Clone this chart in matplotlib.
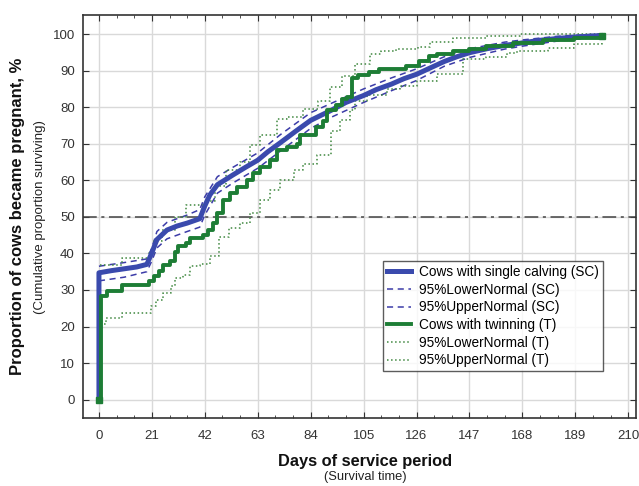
import numpy as np
import matplotlib.pyplot as plt
from matplotlib.ticker import MultipleLocator

plt.rcParams['font.family'] = ['Liberation Sans', 'DejaVu Sans']

# single calving (SC) - cumulative proportion pregnant
sc_days = [0, 0, 5, 10, 15, 19, 21, 23, 27, 31, 35, 40, 42, 44, 47, 53, 58, 63, 67, 72,
           78, 84, 92, 98, 105, 110, 116, 121, 126, 131, 137, 142, 147, 154, 161, 168,
           175, 182, 189, 199]
sc_val = [0, 34.7, 35.3, 35.8, 36.3, 37.0, 40.2, 43.8, 46.4, 47.5, 48.3, 49.5, 53.0, 56.0,
          58.8, 61.4, 63.5, 65.5, 67.8, 70.3, 73.4, 76.4, 79.1, 81.3, 83.2, 84.8, 86.3,
          87.8, 89.0, 90.6, 92.5, 93.8, 94.9, 96.0, 96.9, 97.6, 98.3, 98.8, 99.2, 99.6]

sc_ci_days = [0, 10, 19, 21, 23, 27, 35, 40, 42, 47, 53, 63, 72, 84, 92, 105, 116, 126,
              137, 147, 161, 168, 182, 199]
sc_upper = [36.5, 37.5, 38.5, 41.5, 46.0, 48.5, 50.5, 52.0, 55.5, 61.0, 63.5, 67.5, 72.5,
            78.5, 81.0, 85.0, 88.0, 90.5, 93.8, 96.0, 97.8, 98.4, 99.4, 100.0]
sc_lower = [32.5, 33.5, 35.0, 38.0, 41.5, 44.0, 46.0, 47.2, 50.5, 56.5, 59.2, 63.3, 68.0,
            74.2, 77.2, 81.3, 84.5, 87.3, 91.2, 93.6, 95.9, 96.7, 98.1, 99.2]

# twinning (T)
t_days = [0, 1, 3, 9, 20, 22, 24, 25.4, 28, 30, 31.3, 34.7, 36, 41.3, 43.3, 45.3, 46.7,
          49.3, 52, 54.6, 58.6, 61.3, 63.9, 67.9, 70.6, 74.5, 78.5, 79.8, 86, 88.7, 90.6,
          94, 96.6, 98.6, 100.3, 102.6, 107.2, 111.2, 121.8, 127, 131, 134, 140.6, 147,
          153.7, 164.2, 176, 188.3, 199.4]
t_val = [0, 28.3, 29.7, 31.5, 32.4, 33.8, 35.1, 36.9, 37.8, 40.5, 41.9, 42.8, 44.2, 45.1,
         46.4, 48.3, 51.0, 54.6, 56.4, 58.2, 60.0, 61.9, 63.7, 65.5, 68.2, 69.2, 70.0,
         72.5, 74.5, 76.3, 79.1, 80.5, 82.3, 82.8, 88.0, 88.8, 89.5, 90.4, 91.3, 92.7,
         94.0, 94.5, 95.4, 95.8, 96.7, 97.6, 98.5, 99.0, 99.5]

t_up_days = [0.3, 9, 20, 22, 25, 30, 34.7, 42, 46, 50.6, 56, 60, 64, 70.6, 74.5, 81, 87,
             91.7, 96.3, 101.6, 107.5, 112, 118, 126.7, 131.4, 140.6, 153.7, 167, 199.4]
t_upper = [36.9, 38.8, 40.2, 43.5, 46.5, 50.0, 53.3, 54.3, 58.5, 62.8, 65.0, 69.6, 72.3,
           76.8, 77.3, 79.5, 81.8, 85.4, 88.6, 91.8, 94.5, 95.4, 95.8, 96.5, 97.8, 99.0,
           99.5, 99.9, 100.0]

t_lo_days = [0.3, 2.9, 9.3, 20.8, 22.8, 25.4, 28.7, 30, 33.3, 36, 40, 43.9, 47.6, 51.6,
             56, 59.8, 63.9, 67.9, 71.9, 77.3, 81, 86.5, 91.9, 95.8, 99.8, 101.6, 106.3,
             114.2, 119.5, 126, 134, 144.5, 153.7, 161.7, 166, 178, 188.3, 199.4]
t_lower = [20.6, 22.4, 23.8, 25.6, 27.4, 29.3, 31.1, 33.3, 34.2, 36.5, 37.0, 39.2, 44.6,
           46.9, 48.3, 51.0, 54.6, 57.3, 60.0, 62.8, 64.6, 66.8, 73.6, 76.4, 79.1, 81.8,
           83.2, 85.0, 85.9, 87.2, 89.0, 93.1, 93.6, 94.9, 95.4, 96.3, 97.2, 98.1]

blue = '#3a4aad'
green = '#1d7d35'

fig, ax = plt.subplots(figsize=(6.39, 4.86), dpi=100)
fig.subplots_adjust(left=0.130, right=0.995, bottom=0.140, top=0.969)

ax.set_axisbelow(True)
ax.grid(True, color='#d9d9d9', linewidth=1)
ax.axhline(50, color='#444444', linewidth=1.1, dashes=(9, 3, 2, 3), zorder=2)

ax.plot(sc_ci_days, sc_lower, color='#3c3ca8', linestyle='--', linewidth=1.1, dashes=(4, 3),
        label='95%LowerNormal (SC)', zorder=3)
ax.plot(sc_ci_days, sc_upper, color='#3c3ca8', linestyle='--', linewidth=1.1, dashes=(4, 3),
        label='95%UpperNormal (SC)', zorder=3)
ax.plot(t_lo_days, t_lower, color='#3f873f', linestyle=':', linewidth=1.1, drawstyle='steps-post',
        label='95%LowerNormal (T)', zorder=3)
ax.plot(t_up_days, t_upper, color='#3f873f', linestyle=':', linewidth=1.1, drawstyle='steps-post',
        label='95%UpperNormal (T)', zorder=3)
ax.plot(sc_days, sc_val, color=blue, linewidth=3.6, label='Cows with single calving (SC)',
        zorder=4)
ax.plot(t_days, t_val, color=green, linewidth=2.8, drawstyle='steps-post',
        label='Cows with twinning (T)', zorder=5)
ax.plot([t_days[0], t_days[-1]], [t_val[0], t_val[-1]], linestyle='none', marker='s',
        markersize=4, color=green, zorder=6)

ax.set_xlim(-6.3, 213)
ax.set_ylim(-5, 105.2)
ax.xaxis.set_major_locator(MultipleLocator(21))
ax.xaxis.set_minor_locator(MultipleLocator(7))
ax.yaxis.set_major_locator(MultipleLocator(10))
ax.tick_params(which='both', direction='in', top=True, right=True, colors='#333333',
               labelsize=9.5, labelcolor='#333333')
ax.tick_params(which='major', length=4)
ax.tick_params(which='minor', length=2)
ax.tick_params(axis='x', pad=9)
ax.tick_params(axis='y', pad=6)
for s in ax.spines.values():
    s.set_color('#333333')
    s.set_linewidth(1.2)

fig.text(0.028, 0.554, 'Proportion of cows became pregnant, %', rotation=90, ha='center',
         va='center', fontsize=12, fontweight='bold', color='#111111')
fig.text(0.063, 0.554, '(Cumulative proportion surviving)', rotation=90, ha='center',
         va='center', fontsize=9.5, color='#222222')
fig.text(0.571, 0.050, 'Days of service period', ha='center', va='center', fontsize=11.8,
         fontweight='bold', color='#111111')
fig.text(0.571, 0.019, '(Survival time)', ha='center', va='center', fontsize=9.3,
         color='#222222')

handles, labels = ax.get_legend_handles_labels()
order = [labels.index(n) for n in ['Cows with single calving (SC)', '95%LowerNormal (SC)',
                                   '95%UpperNormal (SC)', 'Cows with twinning (T)',
                                   '95%LowerNormal (T)', '95%UpperNormal (T)']]
leg = ax.legend([handles[i] for i in order], [labels[i] for i in order], loc='upper left',
                bbox_to_anchor=(0.542, 0.39), fontsize=9.8, frameon=True, fancybox=False,
                handlelength=1.8, labelspacing=0.27, borderpad=0.3, handletextpad=0.6,
                borderaxespad=0)
leg.get_frame().set_edgecolor('#333333')
leg.get_frame().set_linewidth(1)

plt.savefig('out.png', dpi=100)
